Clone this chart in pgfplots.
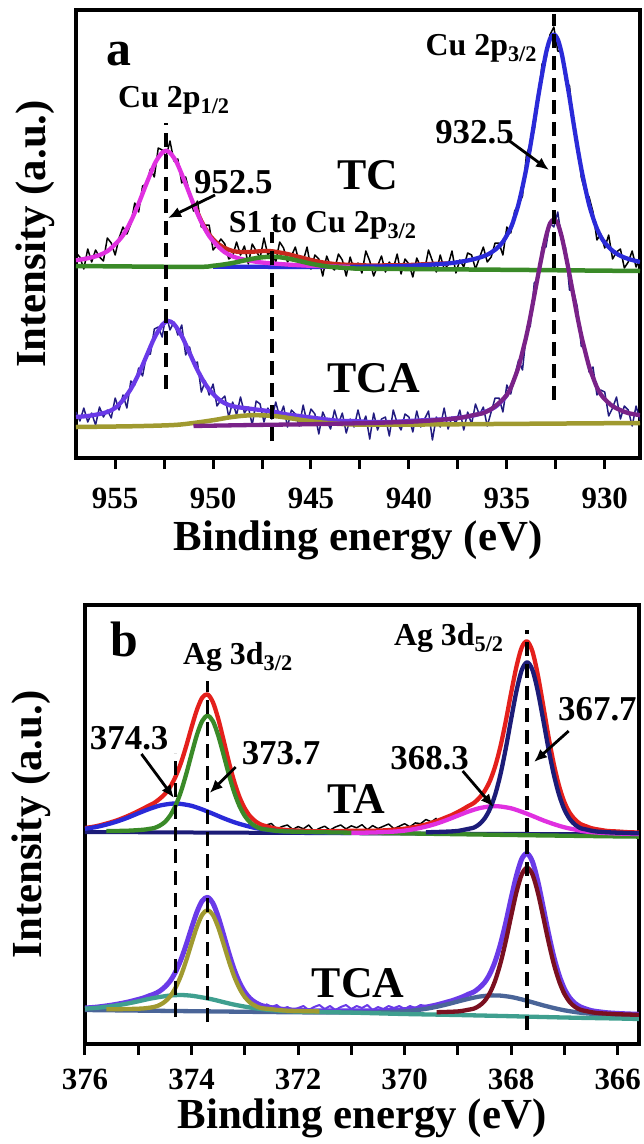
\documentclass[border=0pt]{standalone}
\usepackage{pgfplots}
\pgfplotsset{compat=1.18}
\usepackage{fontspec}
\setmainfont{Liberation Serif}
\usetikzlibrary{arrows.meta}

\definecolor{cred}{HTML}{C8281E}
\definecolor{cgreen}{HTML}{3A8A28}
\definecolor{cblue}{HTML}{2A2AD8}
\definecolor{cmag}{HTML}{E030E0}
\definecolor{cnavy}{HTML}{221C80}
\definecolor{cviolet}{HTML}{6A3AE8}
\definecolor{cpurple}{HTML}{7A2288}
\definecolor{colive}{HTML}{A09A30}
\definecolor{cteal}{HTML}{3F9F8F}
\definecolor{csteel}{HTML}{4A6598}
\definecolor{cmaroon}{HTML}{7A1020}
\definecolor{cdnavy}{HTML}{1C1C78}
\definecolor{cbred}{HTML}{E4201C}

\newcommand\fbig{\fontsize{50}{50}\selectfont\bfseries}
\newcommand\fsam{\fontsize{44}{44}\selectfont\bfseries}
\newcommand\fpk{\fontsize{32}{32}\selectfont\bfseries}
\newcommand\fnum{\fontsize{35}{35}\selectfont\bfseries}

\tikzset{arr/.style={line width=2.8bp, -{Latex[length=13bp,width=11bp]}}}
\pgfplotsset{
  xps/.style={
    scale only axis, x dir=reverse,
    axis line style={line width=3.5bp},
    tick align=outside, xtick pos=left, ytick=\empty,
    major tick length=11bp, minor tick length=11bp,
    tick style={line width=3bp, black},
    /pgf/number format/assume math mode=true,
    xticklabel style={font=\fontsize{31}{31}\selectfont\bfseries, inner sep=0pt},
    label style={font=\fontsize{43}{43}\selectfont\bfseries, inner sep=0pt},
    xlabel={Binding energy (eV)}, ylabel={Intensity (a.u.)},
  },
  fit/.style={line width=4.3bp, smooth, line join=round},
  raw/.style={line width=1.5bp, line join=round},
  vdash/.style={black, line width=3.5bp, dash pattern=on 14bp off 8bp},
}

\begin{document}
\begin{tikzpicture}
\useasboundingbox (0,0) rectangle (644bp,-1144bp);

% ---------------- panel a: Cu 2p
\begin{axis}[xps,
  at={(76bp,-458bp)}, anchor=south west,
  width=564bp, height=448bp,
  xmin=928.2, xmax=957, ymin=0, ymax=448,
  xtick={930,935,...,955}, minor xtick={932.5,937.5,...,952.5},
  xticklabel style={anchor=center, yshift=-29bp},
  xlabel style={at={(axis description cs:0.5,-0.183)}, anchor=center},
  ylabel style={at={(axis description cs:-0.0727,0.5)}, anchor=center},
]
% TC raw
\addplot[raw, black] coordinates {
(928.2,200)(928.4,191)(928.6,207)(928.8,196)(929.0,190)(929.2,209)(929.4,206)(929.6,199)(929.8,223)(930.0,210)
(930.2,224)(930.4,218)(930.6,246)(930.8,261)(931.0,266)(931.2,281)(931.4,317)(931.6,334)(931.8,372)(932.0,377)
(932.2,406)(932.4,407)(932.6,431)(932.8,423)(933.0,399)(933.2,394)(933.4,358)(933.6,328)(933.8,314)(934.0,303)
(934.2,262)(934.4,253)(934.6,247)(934.8,225)(935.0,231)(935.2,203)(935.4,215)(935.6,215)(935.8,201)(936.0,196)
(936.2,211)(936.4,200)(936.6,189)(936.8,203)(937.0,205)(937.2,191)(937.4,198)(937.6,185)(937.8,207)(938.0,193)
(938.2,189)(938.4,203)(938.6,186)(938.8,197)(939.0,208)(939.2,188)(939.4,191)(939.6,200)(939.8,181)(940.0,194)
(940.2,199)(940.4,184)(940.6,204)(940.8,189)(941.0,196)(941.2,186)(941.4,202)(941.6,192)(941.8,182)(942.0,197)
(942.2,207)(942.4,185)(942.6,195)(942.8,188)(943.0,201)(943.2,182)(943.4,198)(943.6,204)(943.8,188)(944.0,192)
(944.2,202)(944.4,182)(944.6,199)(944.8,203)(945.0,189)(945.2,211)(945.4,197)(945.6,195)(945.8,211)(946.0,202)
(946.2,196)(946.4,210)(946.6,216)(946.8,196)(947.0,208)(947.2,203)(947.4,220)(947.6,200)(947.8,207)(948.0,214)
(948.2,194)(948.4,212)(948.6,203)(948.8,216)(949.0,202)(949.2,199)(949.4,214)(949.6,219)(949.8,213)(950.0,208)
(950.2,233)(950.4,233)(950.6,231)(950.8,257)(951.0,247)(951.2,265)(951.4,281)(951.6,275)(951.8,299)(952.0,297)
(952.2,317)(952.4,301)(952.6,308)(952.8,310)(953.0,281)(953.2,289)(953.4,274)(953.6,272)(953.8,246)(954.0,255)
(954.2,234)(954.4,224)(954.6,231)(954.8,220)(955.0,203)(955.2,215)(955.4,220)(955.6,197)(955.8,201)(956.0,208)
(956.2,196)(956.4,209)(956.6,189)(956.8,201)(957.0,205)};
% TC envelope
\addplot[fit, cred] coordinates {(951.0,254.8)(950.6,237)(950.2,223.5)(949.8,215)(949.4,210)(949.0,207)(948.6,206)(948.2,206)(947.8,206.5)(947.4,207)(947.0,206.8)(946.6,205.5)(946.2,204)(945.8,202)(945.4,200)(945.0,198)(944.6,196.3)(944.2,195)(943.8,194)(943.2,193.3)(942.6,193)(942.0,192.5)(941.0,192.7)(940.0,193)(939.0,194)(938.0,194.6)};
% TC Cu 2p3/2
\addplot[fit, cblue] coordinates {(950,191.4)(946,191.1)(942,191.4)(940,192.2)(938.6,193.7)(937.8,195)(937.0,197.5)(936.4,200.4)(936.0,203.3)(935.6,208.2)(935.2,216.2)(934.8,230.1)(934.6,241.1)(934.4,254)(934.2,271)(934.0,290)(933.8,311.9)(933.6,335.9)(933.4,360.9)(933.2,383.8)(933.0,404.8)(932.8,418.8)(932.6,423.7)(932.4,418.7)(932.2,404.7)(932.0,383.6)(931.8,360.6)(931.6,335.6)(931.4,311.5)(931.2,289.5)(931.0,270.5)(930.8,253.4)(930.6,240.4)(930.4,229.4)(930.2,221.3)(930.0,215.3)(929.6,207.2)(929.2,202.2)(928.8,199.1)(928.2,196)};
% TC Cu 2p1/2
\addplot[fit, cmag] coordinates {(957,197.7)(956.6,199)(956.2,200.6)(955.8,202.9)(955.4,206.8)(955.0,213.7)(954.6,222.7)(954.2,236.6)(953.8,254.5)(953.4,274.5)(953.0,293.4)(952.8,300.3)(952.6,305.3)(952.4,307.3)(952.2,305.2)(952.0,300.2)(951.8,293.1)(951.4,274.1)(951.0,254)(950.6,235.9)(950.2,222)(949.8,212.7)(949.4,205.7)(949.0,201.6)(948.6,199.2)(948.2,197.5)(947.6,195.7)(947.0,194.6)(946.0,193.2)(945.0,192.2)(944.0,191.5)(943.0,191)};
% TC background + satellite
\addplot[fit, cgreen, line width=4.5bp] coordinates {(957,192)(951,191.1)(950,192.2)(949.4,193.7)(949,195)(948.6,196.7)(948.2,198.4)(947.8,199.9)(947.4,200.9)(947.0,201.3)(946.6,200.8)(946.2,199.6)(945.8,197.9)(945.4,196.1)(945.0,194.3)(944.6,192.8)(944.2,191.6)(943.8,190.8)(943.0,189.8)(942.0,189.3)(935,188.2)(928.2,187)};

% TCA raw
\addplot[raw, cnavy] coordinates {
(928.2,38)(928.4,52)(928.6,32)(928.8,48)(929.0,52)(929.2,39)(929.4,61)(929.6,50)(929.8,42)(930.0,66)
(930.2,68)(930.4,63)(930.6,91)(930.8,86)(931.0,109)(931.2,112)(931.4,151)(931.6,168)(931.8,168)(932.0,210)
(932.2,219)(932.4,246)(932.6,231)(932.8,235)(933.0,211)(933.2,211)(933.4,179)(933.6,175)(933.8,132)(934.0,125)
(934.2,88)(934.4,98)(934.6,82)(934.8,64)(935.0,73)(935.2,46)(935.4,60)(935.6,60)(935.8,46)(936.0,32)
(936.2,51)(936.4,43)(936.6,54)(936.8,34)(937.0,46)(937.2,28)(937.4,48)(937.6,35)(937.8,41)(938.0,29)
(938.2,50)(938.4,31)(938.6,41)(938.8,18)(939.0,47)(939.2,39)(939.4,31)(939.6,47)(939.8,26)(940.0,41)
(940.2,44)(940.4,28)(940.6,35)(940.8,48)(941.0,22)(941.2,41)(941.4,39)(941.6,28)(941.8,45)(942.0,19)
(942.2,42)(942.4,32)(942.6,48)(942.8,31)(943.0,39)(943.2,25)(943.4,45)(943.6,34)(943.8,48)(944.0,29)
(944.2,37)(944.4,46)(944.6,24)(944.8,44)(945.0,49)(945.2,35)(945.4,53)(945.6,32)(945.8,44)(946.0,48)
(946.2,31)(946.4,52)(946.6,41)(946.8,56)(947.0,39)(947.2,50)(947.4,36)(947.6,54)(947.8,57)(948.0,33)
(948.2,51)(948.4,45)(948.6,61)(948.8,43)(949.0,56)(949.2,41)(949.4,62)(949.6,58)(949.8,52)(950.0,74)
(950.2,63)(950.4,77)(950.6,66)(950.8,96)(951.0,94)(951.2,111)(951.4,103)(951.6,133)(951.8,123)(952.0,136)
(952.2,128)(952.4,144)(952.6,121)(952.8,131)(953.0,129)(953.2,104)(953.4,103)(953.6,82)(953.8,90)(954.0,73)
(954.2,77)(954.4,50)(954.6,63)(954.8,48)(955.0,60)(955.2,40)(955.4,48)(955.6,41)(955.8,51)(956.0,33)
(956.2,45)(956.4,36)(956.6,50)(956.8,37)(957.0,46)};
% TCA envelope
\addplot[fit, cviolet] coordinates {(957.0,41)(956.4,42)(955.8,44)(955.4,46)(955.0,50)(954.6,58)(954.2,69)(953.8,84)(953.4,102)(953.0,120)(952.6,133)(952.3,137)(952.0,134)(951.6,122)(951.2,105)(950.8,88)(950.4,74)(950.0,64)(949.6,57)(949.2,53)(948.8,51)(948.4,50)(948.0,49)(947.6,48)(947.2,47)(946.8,46)(946.4,44)(946.0,43)(945.6,42)(945.2,41)(944.8,40)(944.4,39)(944.0,38)(943.4,37)(942.8,37)(942.0,36)(941.0,36)(940.0,37)(939.0,38)(938.0,39)(937.2,41)(936.6,43)(936.0,47)(935.6,51)(935.2,58)(935.0,63)};
% TCA background + satellite
\addplot[fit, colive, line width=4.5bp] coordinates {(957.0,31)(954.0,31.8)(952.0,33)(951.0,35)(950.0,37.8)(949.2,40.5)(948.6,42)(948.0,42.8)(947.4,42.6)(946.8,41.8)(946.2,40.2)(945.4,37.8)(944.6,35.8)(943.8,34.4)(942.8,33.5)(941.8,33.3)(940.0,33.4)(935.0,34.1)(928.2,35)};
% TCA Cu 2p3/2
\addplot[fit, cpurple] coordinates {(951.0,32)(948.0,33)(945.0,33.8)(942.0,35.0)(940.0,36.2)(939.0,37.3)(938.0,38.8)(937.4,40.1)(937.0,41.6)(936.6,43.3)(936.2,44.9)(935.8,48.9)(935.4,55)(935.0,63.1)(934.8,70.1)(934.6,80.1)(934.4,91.2)(934.2,106.2)(934.0,122.2)(933.8,141.2)(933.6,162.3)(933.4,183.3)(933.2,203.3)(933.0,221.4)(932.8,234.4)(932.6,238.4)(932.4,234.4)(932.2,221.5)(932.0,203.5)(931.8,183.5)(931.6,162.5)(931.4,141.6)(931.2,122.6)(931.0,106.6)(930.8,91.6)(930.6,80.7)(930.4,70.7)(930.2,63.7)(930.0,58.8)(929.6,51.8)(929.2,47.9)(928.8,44.9)(928.2,42.8)};

% peak positions
\addplot[vdash] coordinates {(952.4,69)(952.4,335)};
\addplot[vdash] coordinates {(947.0,17)(947.0,226)};
\addplot[vdash] coordinates {(932.6,58)(932.6,444)};

\node[font=\fbig] at (axis cs:954.8,404) {a};
\node[font=\fpk] at (axis cs:952.0,358) {Cu 2p\textsubscript{1/2}};
\node[font=\fpk] at (axis cs:936.3,410) {Cu 2p\textsubscript{3/2}};
\node[font=\fpk] at (axis cs:944.4,233) {S1 to Cu 2p\textsubscript{3/2}};
\node[font=\fnum] at (axis cs:948.97,276) {952.5};
\node[font=\fnum] at (axis cs:936.65,326) {932.5};
\node[font=\fsam] at (axis cs:942.1,283) {TC};
\node[font=\fsam] at (axis cs:941.8,80) {TCA};
\draw[arr] (axis cs:949.9,263) -- (axis cs:952.3,240);
\draw[arr] (axis cs:934.86,317) -- (axis cs:932.85,288);
\end{axis}

% ---------------- panel b: Ag 3d
\begin{axis}[xps,
  at={(85bp,-1044bp)}, anchor=south west,
  width=554bp, height=439bp,
  xmin=365.6, xmax=376, ymin=0, ymax=439,
  xtick={366,368,...,376}, minor xtick={367,369,...,375},
  xticklabel style={anchor=center, yshift=-24bp},
  xlabel style={at={(axis description cs:0.5,-0.170)}, anchor=center},
  ylabel style={at={(axis description cs:-0.0966,0.5)}, anchor=center},
]
% TA raw
\addplot[raw, black] coordinates {(372.6,219)(372.5,220.5)(372.4,215)(372.3,217.5)(372.2,219)(372.1,214.6)(372.0,217.4)(371.9,215.2)(371.8,219)(371.7,212.8)(371.6,215.7)(371.5,217.8)(371.4,213.9)(371.3,217)(371.2,219)(371.1,215.1)(371.0,218.2)(370.9,216.2)(370.8,219.3)(370.7,214.3)(370.6,218.4)(370.5,215.4)(370.4,217.7)(370.3,220)(370.2,215.3)(370.1,217.8)(370.0,220.3)(369.9,217.2)(369.8,221.1)(369.7,220.3)(369.6,224.5)(369.5,222.2)(369.4,225.9)};
% TA envelope
\addplot[fit, cbred] coordinates {(376.0,216.0)(375.8,217.7)(375.6,220.4)(375.4,223.7)(375.2,227.9)(375.0,232.9)(374.9,235.6)(374.8,238.4)(374.7,241.1)(374.6,245.1)(374.5,250)(374.4,257.2)(374.3,267.4)(374.2,280.9)(374.1,297.9)(374.0,316.6)(373.9,334)(373.8,346.3)(373.7,349.6)(373.6,342)(373.5,325.5)(373.4,304.2)(373.3,282.2)(373.2,262.6)(373.1,247)(373.0,235.6)(372.9,227.7)(372.8,222.7)(372.7,219.5)(372.6,217.8)(372.4,215.2)(372.2,213.9)(372.0,213.4)(371.6,212.7)(371.0,213.2)(370.5,213.4)(370.2,214.3)(370.0,215.3)(369.8,217.1)(369.6,219.5)(369.4,222.9)(369.2,227.1)(369.1,229.3)(369.0,232)(368.9,234.9)(368.8,238.1)(368.7,241)(368.6,246)(368.5,252.8)(368.4,262.9)(368.3,277.7)(368.2,297.8)(368.1,323.1)(368.0,351.2)(367.9,377.5)(367.8,396.8)(367.7,402.6)(367.6,392.6)(367.5,369.3)(367.4,339.1)(367.3,307.8)(367.2,280.1)(367.1,258)(367.0,241.8)(366.9,231.1)(366.8,224.4)(366.7,220)(366.6,217.9)(366.5,215.9)(366.4,214.8)(366.2,213.1)(366.0,212.5)(365.8,211.8)(365.6,211.5)};
% TA baseline
\addplot[cdnavy, line width=4bp] coordinates {(376,212)(365.6,209.5)};
% TA Ag 3d3/2 broad
\addplot[fit, cblue] coordinates {(376,215.3)(375.8,216.9)(375.6,219.4)(375.4,222.5)(375.2,226.3)(375.0,230.7)(374.8,234.9)(374.6,238.4)(374.4,240.2)(374.3,240.5)(374.2,240.1)(374.0,238.2)(373.8,234.6)(373.6,230.3)(373.4,225.8)(373.2,221.8)(373.0,218.6)(372.8,216)(372.6,214.3)(372.4,213)(372.2,212.35)(372.0,212)(371.6,211.5)(371,211)};
% TA Ag 3d3/2 main
\addplot[fit, cgreen] coordinates {(375.6,212.9)(375.2,213.3)(374.9,214.3)(374.8,215.1)(374.7,216)(374.6,218.3)(374.5,222)(374.4,228.5)(374.3,238.4)(374.2,252.2)(374.1,269.9)(374.0,289.8)(373.9,308.9)(373.8,323)(373.7,328.3)(373.6,323)(373.5,308.7)(373.4,289.6)(373.3,269.7)(373.2,251.9)(373.1,238)(373.0,228.1)(372.9,221.6)(372.8,217.7)(372.7,215.4)(372.6,214.5)(372.4,213.1)(372.2,212.5)(371.6,211.8)(371,211.3)(370,210.6)(368,209)(366,207.6)(365.6,207.4)};
% TA Ag 3d5/2 broad
\addplot[fit, cmag] coordinates {(371.0,211.2)(370.6,211.5)(370.2,212.4)(370.0,213.4)(369.8,215.1)(369.6,217.4)(369.4,220.4)(369.2,224.2)(369.0,228.4)(368.8,232.5)(368.6,235.8)(368.4,237.6)(368.3,237.8)(368.2,237.5)(368.0,235.7)(367.8,232.2)(367.6,228.1)(367.4,223.7)(367.2,219.9)(367.0,216.7)(366.8,214.4)(366.6,212.5)(366.4,211.5)(366.0,210.5)(365.6,210)};
% TA Ag 3d5/2 main
\addplot[fit, cdnavy] coordinates {(369.6,211.7)(369.2,212.4)(369.0,213.1)(368.8,215.2)(368.7,216.4)(368.6,219.7)(368.5,225.4)(368.4,234.8)(368.3,249.4)(368.2,269.8)(368.1,295.8)(368.0,325)(367.9,353)(367.8,374)(367.7,381.7)(367.6,374)(367.5,352.9)(367.4,324.8)(367.3,295.6)(367.2,269.6)(367.1,249.1)(367.0,234.4)(366.9,225)(366.8,219.3)(366.7,215.9)(366.6,214.6)(366.4,212.5)(366.0,211.3)(365.6,210.7)};

% TCA raw
\addplot[raw, cviolet, line width=2bp] coordinates {(372.6,40)(372.5,37)(372.4,39)(372.3,35)(372.2,37)(372.1,34)(372.0,36)(371.9,38)(371.8,34)(371.7,37)(371.6,39)(371.5,35)(371.4,38)(371.3,34)(371.2,37)(371.1,39)(371.0,35)(370.9,38)(370.8,36)(370.7,39)(370.6,34)(370.5,37)(370.4,35)(370.3,38)(370.2,36)(370.1,38)(370.0,35)(369.9,38)(369.8,36)(369.7,39)(369.6,38)};
% TCA envelope
\addplot[fit, cviolet, line width=5bp] coordinates {(376.0,36.0)(375.8,36.8)(375.6,38.1)(375.4,39.8)(375.2,41.9)(375.0,44.6)(374.9,46.1)(374.8,48.1)(374.7,50)(374.6,52.8)(374.5,57.1)(374.4,63.1)(374.3,72.1)(374.2,84.2)(374.1,99.3)(374.0,116)(373.9,131.8)(373.8,143.1)(373.7,146.7)(373.6,141)(373.5,127.3)(373.4,109.6)(373.3,91.2)(373.2,74.6)(373.1,61.6)(373.0,52)(372.9,45.5)(372.8,41.5)(372.7,38.8)(372.6,37.4)(372.4,35.4)(372.2,34.3)(372.0,33.7)(371.6,33.1)(371.0,33.2)(370.5,33.2)(370.2,33.7)(370.0,34.3)(369.8,35.1)(369.6,36.9)(369.4,39.1)(369.2,42)(369.1,43.5)(369.0,45.4)(368.9,47.4)(368.8,49.9)(368.7,52.1)(368.6,56.1)(368.5,61.5)(368.4,70.1)(368.3,82.7)(368.2,100)(368.1,121.6)(368.0,145.8)(367.9,168.5)(367.8,185.2)(367.7,190.5)(367.6,182.3)(367.5,162.9)(367.4,137.4)(367.3,111)(367.2,87.5)(367.1,68.9)(367.0,55.2)(366.9,46.2)(366.8,40.6)(366.7,37.2)(366.6,35.2)(366.5,33.5)(366.4,32.6)(366.2,31.3)(366.0,30.6)(365.8,30.1)(365.6,29.7)};
% TCA Ag 3d5/2 broad
\addplot[fit, csteel] coordinates {(376,34)(372,31.7)(371,31.6)(370.5,31.6)(370.2,32.2)(370.0,32.6)(369.8,33.7)(369.6,35.2)(369.4,37.2)(369.2,39.7)(369.0,42.5)(368.8,45.2)(368.6,47.4)(368.4,48.5)(368.3,48.6)(368.2,48.4)(368.0,47)(367.8,44.6)(367.6,41.7)(367.4,38.7)(367.2,36)(367.0,33.7)(366.8,32)(366.6,30.7)(366.4,30)(366.0,29)(365.6,28.5)};
% TCA Ag 3d3/2 broad
\addplot[fit, cteal] coordinates {(376,35.4)(375.8,36.1)(375.6,37.2)(375.4,38.7)(375.2,40.5)(375.0,42.7)(374.8,45.1)(374.6,47)(374.4,48.5)(374.2,49)(374.0,48.3)(373.8,46.6)(373.6,44.5)(373.4,41.9)(373.2,39.4)(373.0,37.4)(372.8,35.7)(372.6,34.4)(372.4,33.5)(372.0,32.5)(371.0,31.4)(370,30)(369,29)(368,27.8)(367,26.5)(366,25.5)(365.6,25)};
% TCA Ag 3d3/2 main
\addplot[fit, colive] coordinates {(375.6,34.7)(375.2,35)(374.9,35.6)(374.7,37.1)(374.6,39)(374.5,42.3)(374.4,47.7)(374.3,56.3)(374.2,68.2)(374.1,83.5)(374.0,100.6)(373.9,117)(373.8,129.3)(373.7,133.8)(373.6,129.2)(373.5,116.8)(373.4,100.3)(373.3,83.1)(373.2,67.7)(373.1,55.7)(373.0,47)(372.9,41.4)(372.8,38.1)(372.7,36)(372.5,34.8)(372.2,33.3)(371.6,32.6)};
% TCA Ag 3d5/2 main
\addplot[fit, cmaroon] coordinates {(369.4,31.8)(369.0,32.6)(368.8,34.3)(368.7,35.4)(368.6,38.2)(368.5,42.9)(368.4,51)(368.3,63.4)(368.2,80.9)(368.1,103)(368.0,127.9)(367.9,151.9)(367.8,169.7)(367.7,176.3)(367.6,169.6)(367.5,151.7)(367.4,127.6)(367.3,102.6)(367.2,80.3)(367.1,62.8)(367.0,50.1)(366.9,42)(366.8,37.1)(366.7,34.3)(366.6,33)(366.4,31.1)(366.0,29.8)(365.6,29.2)};

% peak positions
\addplot[vdash] coordinates {(374.3,27)(374.3,291)};
\addplot[vdash] coordinates {(373.7,22)(373.7,363)};
\addplot[vdash] coordinates {(367.7,14)(367.7,414)};

\node[font=\fbig] at (axis cs:375.26,405) {b};
\node[font=\fpk] at (axis cs:373.13,387) {Ag 3d\textsubscript{3/2}};
\node[font=\fpk] at (axis cs:369.17,406) {Ag 3d\textsubscript{5/2}};
\node[font=\fnum] at (axis cs:375.17,306) {374.3};
\node[font=\fnum] at (axis cs:372.32,291) {373.7};
\node[font=\fnum] at (axis cs:369.53,286) {368.3};
\node[font=\fnum] at (axis cs:366.38,335) {367.7};
\node[font=\fsam] at (axis cs:370.9,245) {TA};
\node[font=\fsam] at (axis cs:370.87,61) {TCA};
\draw[arr] (axis cs:374.94,290) -- (axis cs:374.33,246);
\draw[arr] (axis cs:373.17,277) -- (axis cs:373.66,251);
\draw[arr] (axis cs:368.91,273) -- (axis cs:368.33,237);
\draw[arr] (axis cs:366.92,313) -- (axis cs:367.57,282);
\end{axis}
\end{tikzpicture}
\end{document}
